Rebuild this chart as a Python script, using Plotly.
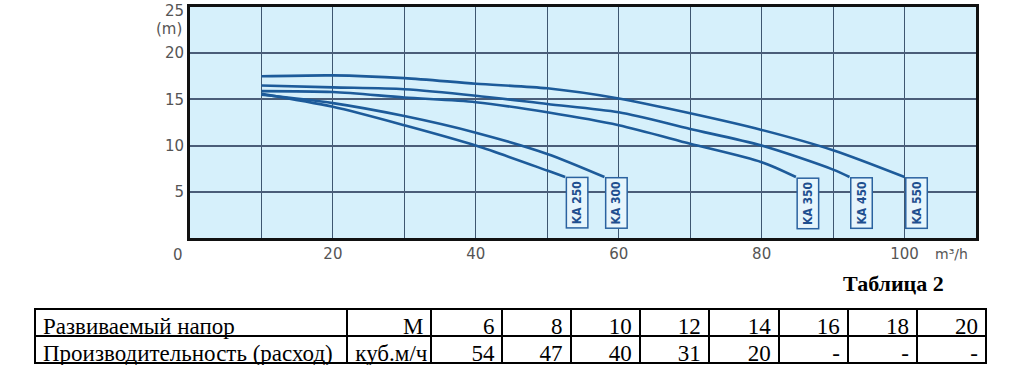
import plotly.graph_objects as go

# ---- data ----
ka250_x = [10, 20, 30, 40, 50, 52.5]
ka250_y = [15.6, 14.2, 12.2, 10.0, 7.3, 6.6]
ka300_x = [10, 20, 30, 40, 50, 58]
ka300_y = [15.5, 14.6, 13.2, 11.4, 9.1, 6.6]
ka350_x = [10, 20, 30, 40, 50, 60, 70, 80, 84.8]
ka350_y = [15.9, 15.8, 15.2, 14.7, 13.6, 12.2, 10.2, 8.2, 6.6]
ka450_x = [10, 20, 30, 40, 50, 60, 70, 80, 90, 92.3]
ka450_y = [16.5, 16.3, 16.1, 15.4, 14.5, 13.6, 11.8, 10.0, 7.4, 6.6]
ka550_x = [10, 20, 30, 40, 50, 60, 70, 80, 90, 100]
ka550_y = [17.5, 17.6, 17.3, 16.7, 16.2, 15.1, 13.5, 11.7, 9.5, 6.6]
series_names = ["KA 250", "KA 300", "KA 350", "KA 450", "KA 550"]

x_tick_vals = [20, 40, 60, 80, 100]
y_tick_vals = [5, 10, 15, 20, 25]

table_head = ["Развиваемый напор", "М", "6", "8", "10", "12", "14", "16", "18", "20"]
table_row = ["Производительность (расход)", "куб.м/ч", "54", "47", "40", "31", "20", "-", "-", "-"]
table_title = "Таблица 2"

# ---- figure ----
W, H = 1036, 375
fig = go.Figure()

line_col = "#1d5b9a"
all_series = [(ka250_x, ka250_y), (ka300_x, ka300_y), (ka350_x, ka350_y),
              (ka450_x, ka450_y), (ka550_x, ka550_y)]
for (xs, ys), name in zip(all_series, series_names):
    fig.add_trace(go.Scatter(x=xs, y=ys, mode="lines", name=name,
                             line=dict(color=line_col, width=2.6, shape="spline", smoothing=0.8),
                             showlegend=False, hoverinfo="skip"))
    fig.add_annotation(x=xs[-1], y=ys[-1], xref="x", yref="y", text="<b>" + name + "</b>",
                       textangle=-90, showarrow=False, xanchor="left", yanchor="top",
                       font=dict(family="DejaVu Sans Condensed, DejaVu Sans", size=12, color="#1f4f8f"),
                       bgcolor="#e6f5fc", bordercolor="#2a62a0", borderwidth=1.5, borderpad=3)

px0, px1 = 190, 976
py_top, py_bot = 7, 238
tick_font = dict(family="DejaVu Sans", size=15, color="#555")
fig.update_layout(
    width=W, height=H,
    margin=dict(l=0, r=0, t=0, b=0),
    paper_bgcolor="white",
    plot_bgcolor="#d6f0fb",
    xaxis=dict(domain=[px0 / W, px1 / W], range=[0, 110], tickvals=x_tick_vals,
               ticktext=[str(v) for v in x_tick_vals], showgrid=True,
               gridcolor="#3e5670", gridwidth=1.2,
               showline=True, linecolor="#111", linewidth=3, mirror=True,
               ticks="", tickfont=tick_font, zeroline=False),
    yaxis=dict(domain=[1 - py_bot / H, 1 - py_top / H], range=[0, 25], tickvals=y_tick_vals,
               showgrid=True, gridcolor="#4a5d78", gridwidth=1.5,
               showline=True, linecolor="#111", linewidth=3, mirror=True,
               ticks="", tickfont=tick_font, zeroline=False),
)
fig.update_xaxes(minor=dict(dtick=10, tick0=0, showgrid=True, gridcolor="#3e5670", gridwidth=1.2))

# axis annotations
fig.add_annotation(x=0, y=0, xref="x", yref="y", text="0", showarrow=False, xanchor="center",
                   yanchor="top", xshift=-12, yshift=-6, font=tick_font)
fig.add_annotation(x=0, y=y_tick_vals[-1], xref="x", yref="y", text=str(y_tick_vals[-1]),
                   showarrow=False, xanchor="right", yanchor="top", xshift=-4, yshift=7,
                   font=tick_font)
fig.add_annotation(x=0, y=22.6, xref="x", yref="y", text="(m)", showarrow=False, xanchor="right",
                   xshift=-6, font=dict(family="DejaVu Sans", size=15, color="#555"))
fig.add_annotation(x=104, y=0, xref="x", yref="y", text="m³/h", showarrow=False, xanchor="left",
                   yanchor="top", yshift=-6, font=dict(family="DejaVu Sans", size=14, color="#555"))

# table title
fig.add_annotation(x=946 / W, y=1 - 283 / H, xref="paper", yref="paper", text="<b>" + table_title + "</b>",
                   showarrow=False, xanchor="right", yanchor="middle",
                   font=dict(family="Liberation Serif", size=22, color="black"))

# table
tfont = dict(family="Liberation Serif", size=23, color="black")
fig.add_trace(go.Table(
    domain=dict(x=[35 / W, 986 / W], y=[1 - 365 / H, 1 - 309 / H]),
    columnwidth=[312, 84, 71, 68, 69, 69, 70, 69, 69, 69],
    header=dict(values=table_head, height=27, fill_color="white",
                line=dict(color="black", width=2),
                align=["left", "right"] + ["right"] * 8, font=tfont),
    cells=dict(values=[[v] for v in table_row], height=27, fill_color="white",
               line=dict(color="black", width=2),
               align=["left", "left"] + ["right"] * 8, font=tfont),
))

fig.write_html("out.html")
